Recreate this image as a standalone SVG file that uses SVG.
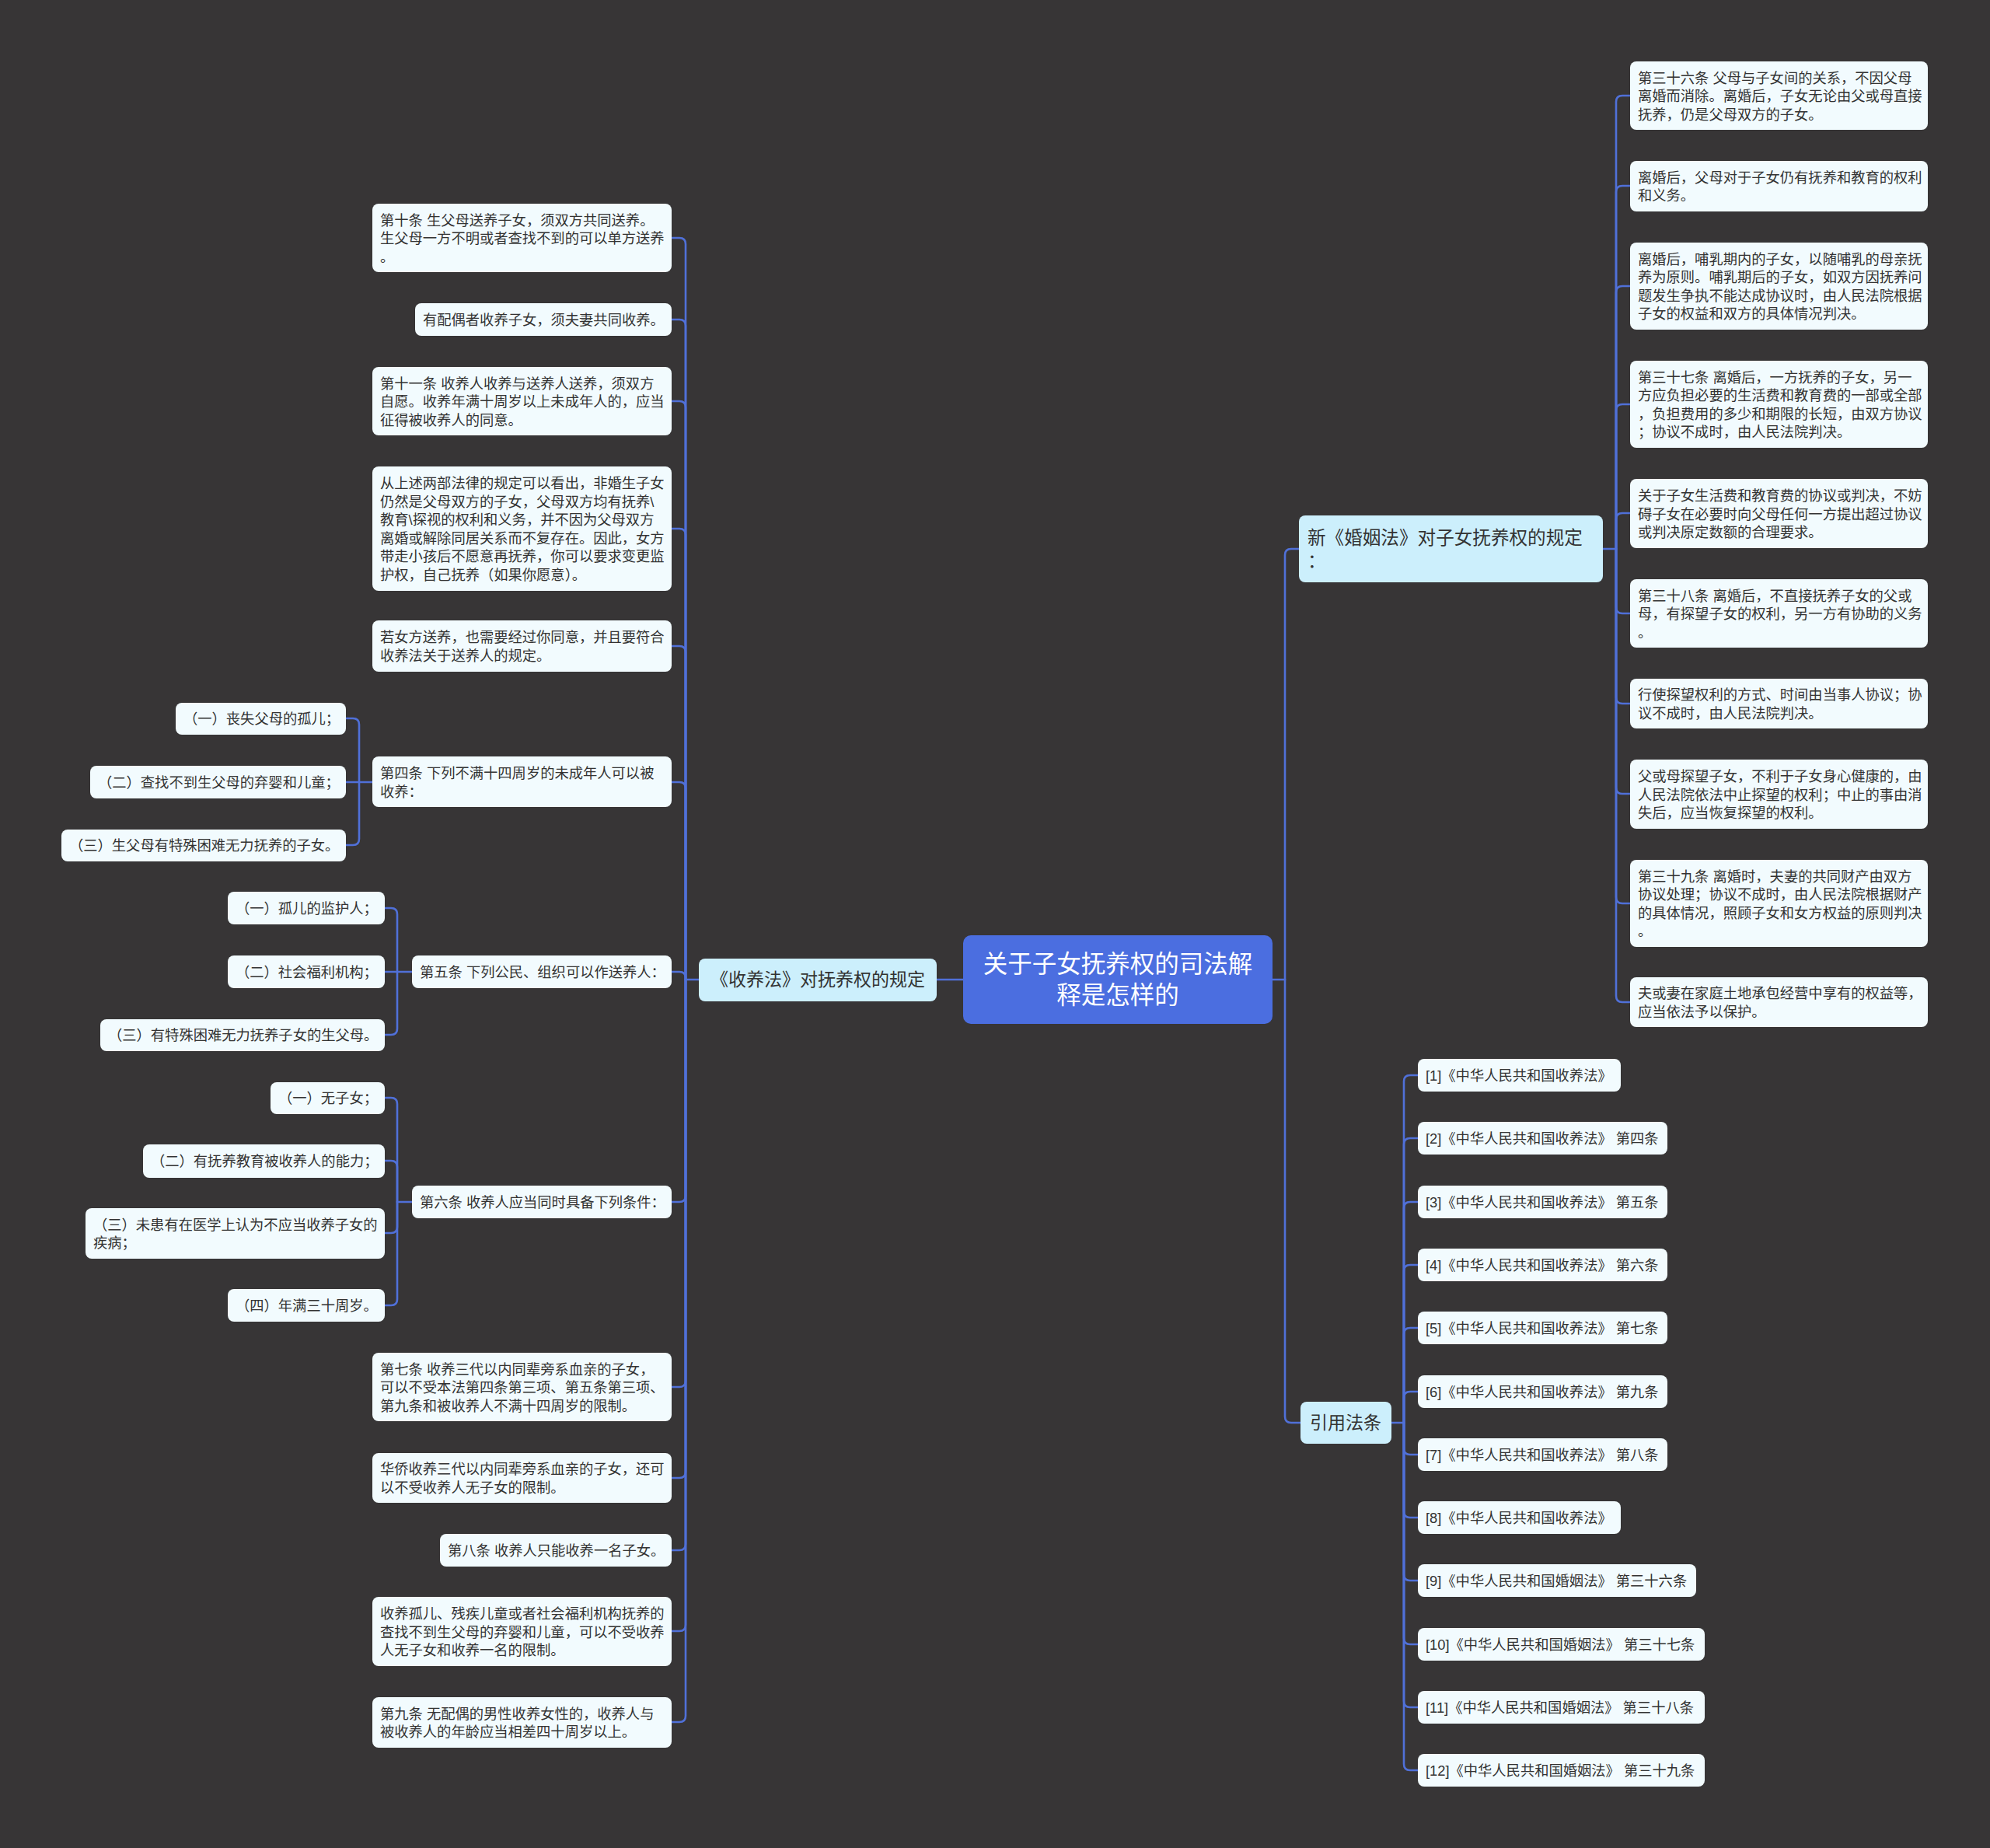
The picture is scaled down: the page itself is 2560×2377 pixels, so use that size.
<svg xmlns="http://www.w3.org/2000/svg" width="2560" height="2377" viewBox="0 0 2560 2377">
<style>
text{font-family:"Liberation Sans","Noto Sans CJK SC",sans-serif;dominant-baseline:central;fill:#333333}
.c{fill:#f2fbfe}
.b{fill:#cceffc}
.r{fill:#4b6ee0}
.t{font-size:18.3px}
.bt{font-size:23px}
.bt2{font-size:23.6px}
.rt{font-size:31.5px;fill:#ffffff;text-anchor:middle}
.ln{fill:none;stroke:#5070d8;stroke-width:2.6;stroke-linecap:round}
</style>
<rect width="2560" height="2377" fill="#373536"/>
<g id="connectors" class="ln">
<path d="M1239,1260 H1205"/>
<path d="M899,1260 H882"/>
<path d="M882,1260 V314 Q882,306 874,306 H864"/>
<path d="M882,1260 V419 Q882,411 874,411 H864"/>
<path d="M882,1260 V524 Q882,516 874,516 H864"/>
<path d="M882,1260 V688 Q882,680 874,680 H864"/>
<path d="M882,1260 V839 Q882,831 874,831 H864"/>
<path d="M882,1260 V1014 Q882,1006 874,1006 H864"/>
<path d="M882,1260 V1258 Q882,1250 874,1250 H864"/>
<path d="M882,1260 V1538 Q882,1546 874,1546 H864"/>
<path d="M882,1260 V1776 Q882,1784 874,1784 H864"/>
<path d="M882,1260 V1893 Q882,1901 874,1901 H864"/>
<path d="M882,1260 V1986 Q882,1994 874,1994 H864"/>
<path d="M882,1260 V2090 Q882,2098 874,2098 H864"/>
<path d="M882,1260 V2207 Q882,2215 874,2215 H864"/>
<path d="M479,1006 H462"/>
<path d="M462,1006 V932 Q462,924 454,924 H445"/>
<path d="M462,1006 H445"/>
<path d="M462,1006 V1079 Q462,1087 454,1087 H445"/>
<path d="M530,1250 H511"/>
<path d="M511,1250 V1176 Q511,1168 503,1168 H495"/>
<path d="M511,1250 H495"/>
<path d="M511,1250 V1323 Q511,1331 503,1331 H495"/>
<path d="M530,1546 H511"/>
<path d="M511,1546 V1420 Q511,1412 503,1412 H495"/>
<path d="M511,1546 V1501 Q511,1493 503,1493 H495"/>
<path d="M511,1546 V1578 Q511,1586 503,1586 H495"/>
<path d="M511,1546 V1671 Q511,1679 503,1679 H495"/>
<path d="M1637,1260 H1653"/>
<path d="M1653,1260 V714 Q1653,706 1661,706 H1671"/>
<path d="M1653,1260 V1822 Q1653,1830 1661,1830 H1673"/>
<path d="M2062,706 H2079"/>
<path d="M2079,706 V131 Q2079,123 2087,123 H2097"/>
<path d="M2079,706 V247 Q2079,239 2087,239 H2097"/>
<path d="M2079,706 V376 Q2079,368 2087,368 H2097"/>
<path d="M2079,706 V528 Q2079,520 2087,520 H2097"/>
<path d="M2079,706 V668 Q2079,660 2087,660 H2097"/>
<path d="M2079,706 V781 Q2079,789 2087,789 H2097"/>
<path d="M2079,706 V897 Q2079,905 2087,905 H2097"/>
<path d="M2079,706 V1013 Q2079,1021 2087,1021 H2097"/>
<path d="M2079,706 V1154 Q2079,1162 2087,1162 H2097"/>
<path d="M2079,706 V1281 Q2079,1289 2087,1289 H2097"/>
<path d="M1790,1830 H1806"/>
<path d="M1806,1830 V1391 Q1806,1383 1814,1383 H1824"/>
<path d="M1806,1830 V1472 Q1806,1464 1814,1464 H1824"/>
<path d="M1806,1830 V1554 Q1806,1546 1814,1546 H1824"/>
<path d="M1806,1830 V1635 Q1806,1627 1814,1627 H1824"/>
<path d="M1806,1830 V1716 Q1806,1708 1814,1708 H1824"/>
<path d="M1806,1830 V1798 Q1806,1790 1814,1790 H1824"/>
<path d="M1806,1830 V1863 Q1806,1871 1814,1871 H1824"/>
<path d="M1806,1830 V1944 Q1806,1952 1814,1952 H1824"/>
<path d="M1806,1830 V2025 Q1806,2033 1814,2033 H1824"/>
<path d="M1806,1830 V2107 Q1806,2115 1814,2115 H1824"/>
<path d="M1806,1830 V2188 Q1806,2196 1814,2196 H1824"/>
<path d="M1806,1830 V2269 Q1806,2277 1814,2277 H1824"/>
</g>
<g id="root"><rect class="r" x="1239" y="1203" width="398" height="114" rx="10"/>
<text class="rt"><tspan x="1438" y="1240">关于子女抚养权的司法解</tspan><tspan x="1438" y="1280">释是怎样的</tspan></text></g>
<g id="b1"><rect class="b" x="899" y="1233" width="306" height="55" rx="8"/>
<text class="bt" x="1052" y="1260" text-anchor="middle">《收养法》对抚养权的规定</text></g>
<g id="b2"><rect class="b" x="1671" y="663" width="391" height="86" rx="8"/>
<text class="bt2"><tspan x="1682" y="692">新《婚姻法》对子女抚养权的规定</tspan><tspan x="1682" y="722">：</tspan></text></g>
<g id="b3"><rect class="b" x="1673" y="1803" width="117" height="54" rx="8"/>
<text class="bt" x="1731" y="1830" text-anchor="middle">引用法条</text></g>

<g id="l1"><rect class="c" x="479" y="262" width="385" height="88" rx="8"/>
<text class="t"><tspan x="489" y="282.5">第十条 生父母送养子女，须双方共同送养。</tspan><tspan x="489" y="306">生父母一方不明或者查找不到的可以单方送养</tspan><tspan x="489" y="329.5">。</tspan></text></g>
<g id="l2"><rect class="c" x="534" y="390" width="330" height="42" rx="8"/>
<text class="t" x="544" y="411">有配偶者收养子女，须夫妻共同收养。</text></g>
<g id="l3"><rect class="c" x="479" y="472" width="385" height="88" rx="8"/>
<text class="t"><tspan x="489" y="492.5">第十一条 收养人收养与送养人送养，须双方</tspan><tspan x="489" y="516">自愿。收养年满十周岁以上未成年人的，应当</tspan><tspan x="489" y="539.5">征得被收养人的同意。</tspan></text></g>
<g id="l4"><rect class="c" x="479" y="600" width="385" height="160" rx="8"/>
<text class="t"><tspan x="489" y="621.25">从上述两部法律的规定可以看出，非婚生子女</tspan><tspan x="489" y="644.75">仍然是父母双方的子女，父母双方均有抚养\</tspan><tspan x="489" y="668.25">教育\探视的权利和义务，并不因为父母双方</tspan><tspan x="489" y="691.75">离婚或解除同居关系而不复存在。因此，女方</tspan><tspan x="489" y="715.25">带走小孩后不愿意再抚养，你可以要求变更监</tspan><tspan x="489" y="738.75">护权，自己抚养（如果你愿意）。</tspan></text></g>
<g id="l5"><rect class="c" x="479" y="798" width="385" height="66" rx="8"/>
<text class="t"><tspan x="489" y="819.25">若女方送养，也需要经过你同意，并且要符合</tspan><tspan x="489" y="842.75">收养法关于送养人的规定。</tspan></text></g>
<g id="l6"><rect class="c" x="479" y="973" width="385" height="65" rx="8"/>
<text class="t"><tspan x="489" y="994">第四条 下列不满十四周岁的未成年人可以被</tspan><tspan x="489" y="1017.5">收养：</tspan></text></g>
<g id="l6a"><rect class="c" x="226" y="904" width="219" height="41" rx="8"/>
<text class="t" x="236" y="924.5">（一）丧失父母的孤儿；</text></g>
<g id="l6b"><rect class="c" x="116" y="985" width="329" height="42" rx="8"/>
<text class="t" x="126" y="1006">（二）查找不到生父母的弃婴和儿童；</text></g>
<g id="l6c"><rect class="c" x="79" y="1067" width="366" height="41" rx="8"/>
<text class="t" x="89" y="1087.5">（三）生父母有特殊困难无力抚养的子女。</text></g>
<g id="l7"><rect class="c" x="530" y="1229" width="334" height="42" rx="8"/>
<text class="t" x="540" y="1250">第五条 下列公民、组织可以作送养人：</text></g>
<g id="l7a"><rect class="c" x="293" y="1147" width="202" height="42" rx="8"/>
<text class="t" x="303" y="1168">（一）孤儿的监护人；</text></g>
<g id="l7b"><rect class="c" x="293" y="1229" width="202" height="42" rx="8"/>
<text class="t" x="303" y="1250">（二）社会福利机构；</text></g>
<g id="l7c"><rect class="c" x="129" y="1311" width="366" height="41" rx="8"/>
<text class="t" x="139" y="1331.5">（三）有特殊困难无力抚养子女的生父母。</text></g>
<g id="l8"><rect class="c" x="530" y="1525" width="334" height="42" rx="8"/>
<text class="t" x="540" y="1546">第六条 收养人应当同时具备下列条件：</text></g>
<g id="l8a"><rect class="c" x="348" y="1392" width="147" height="41" rx="8"/>
<text class="t" x="358" y="1412.5">（一）无子女；</text></g>
<g id="l8b"><rect class="c" x="184" y="1472" width="311" height="43" rx="8"/>
<text class="t" x="194" y="1493.5">（二）有抚养教育被收养人的能力；</text></g>
<g id="l8c"><rect class="c" x="110" y="1554" width="385" height="65" rx="8"/>
<text class="t"><tspan x="120" y="1574.75">（三）未患有在医学上认为不应当收养子女的</tspan><tspan x="120" y="1598.25">疾病；</tspan></text></g>
<g id="l8d"><rect class="c" x="293" y="1658" width="202" height="42" rx="8"/>
<text class="t" x="303" y="1679">（四）年满三十周岁。</text></g>
<g id="l9"><rect class="c" x="479" y="1740" width="385" height="88" rx="8"/>
<text class="t"><tspan x="489" y="1760.5">第七条 收养三代以内同辈旁系血亲的子女，</tspan><tspan x="489" y="1784">可以不受本法第四条第三项、第五条第三项、</tspan><tspan x="489" y="1807.5">第九条和被收养人不满十四周岁的限制。</tspan></text></g>
<g id="l10"><rect class="c" x="479" y="1869" width="385" height="64" rx="8"/>
<text class="t"><tspan x="489" y="1889.25">华侨收养三代以内同辈旁系血亲的子女，还可</tspan><tspan x="489" y="1912.75">以不受收养人无子女的限制。</tspan></text></g>
<g id="l11"><rect class="c" x="566" y="1973" width="298" height="42" rx="8"/>
<text class="t" x="576" y="1994">第八条 收养人只能收养一名子女。</text></g>
<g id="l12"><rect class="c" x="479" y="2054" width="385" height="89" rx="8"/>
<text class="t"><tspan x="489" y="2075">收养孤儿、残疾儿童或者社会福利机构抚养的</tspan><tspan x="489" y="2098.5">查找不到生父母的弃婴和儿童，可以不受收养</tspan><tspan x="489" y="2122">人无子女和收养一名的限制。</tspan></text></g>
<g id="l13"><rect class="c" x="479" y="2183" width="385" height="65" rx="8"/>
<text class="t"><tspan x="489" y="2203.75">第九条 无配偶的男性收养女性的，收养人与</tspan><tspan x="489" y="2227.25">被收养人的年龄应当相差四十周岁以上。</tspan></text></g>

<g id="r1"><rect class="c" x="2097" y="79" width="383" height="88" rx="8"/>
<text class="t"><tspan x="2107" y="99.5">第三十六条 父母与子女间的关系，不因父母</tspan><tspan x="2107" y="123">离婚而消除。离婚后，子女无论由父或母直接</tspan><tspan x="2107" y="146.5">抚养，仍是父母双方的子女。</tspan></text></g>
<g id="r2"><rect class="c" x="2097" y="207" width="383" height="65" rx="8"/>
<text class="t"><tspan x="2107" y="227.75">离婚后，父母对于子女仍有抚养和教育的权利</tspan><tspan x="2107" y="251.25">和义务。</tspan></text></g>
<g id="r3"><rect class="c" x="2097" y="312" width="383" height="112" rx="8"/>
<text class="t"><tspan x="2107" y="332.75">离婚后，哺乳期内的子女，以随哺乳的母亲抚</tspan><tspan x="2107" y="356.25">养为原则。哺乳期后的子女，如双方因抚养问</tspan><tspan x="2107" y="379.75">题发生争执不能达成协议时，由人民法院根据</tspan><tspan x="2107" y="403.25">子女的权益和双方的具体情况判决。</tspan></text></g>
<g id="r4"><rect class="c" x="2097" y="464" width="383" height="112" rx="8"/>
<text class="t"><tspan x="2107" y="484.75">第三十七条 离婚后，一方抚养的子女，另一</tspan><tspan x="2107" y="508.25">方应负担必要的生活费和教育费的一部或全部</tspan><tspan x="2107" y="531.75">，负担费用的多少和期限的长短，由双方协议</tspan><tspan x="2107" y="555.25">；协议不成时，由人民法院判决。</tspan></text></g>
<g id="r5"><rect class="c" x="2097" y="616" width="383" height="89" rx="8"/>
<text class="t"><tspan x="2107" y="637">关于子女生活费和教育费的协议或判决，不妨</tspan><tspan x="2107" y="660.5">碍子女在必要时向父母任何一方提出超过协议</tspan><tspan x="2107" y="684">或判决原定数额的合理要求。</tspan></text></g>
<g id="r6"><rect class="c" x="2097" y="745" width="383" height="88" rx="8"/>
<text class="t"><tspan x="2107" y="765.5">第三十八条 离婚后，不直接抚养子女的父或</tspan><tspan x="2107" y="789">母，有探望子女的权利，另一方有协助的义务</tspan><tspan x="2107" y="812.5">。</tspan></text></g>
<g id="r7"><rect class="c" x="2097" y="873" width="383" height="64" rx="8"/>
<text class="t"><tspan x="2107" y="893.25">行使探望权利的方式、时间由当事人协议；协</tspan><tspan x="2107" y="916.75">议不成时，由人民法院判决。</tspan></text></g>
<g id="r8"><rect class="c" x="2097" y="977" width="383" height="89" rx="8"/>
<text class="t"><tspan x="2107" y="998">父或母探望子女，不利于子女身心健康的，由</tspan><tspan x="2107" y="1021.5">人民法院依法中止探望的权利；中止的事由消</tspan><tspan x="2107" y="1045">失后，应当恢复探望的权利。</tspan></text></g>
<g id="r9"><rect class="c" x="2097" y="1106" width="383" height="112" rx="8"/>
<text class="t"><tspan x="2107" y="1126.75">第三十九条 离婚时，夫妻的共同财产由双方</tspan><tspan x="2107" y="1150.25">协议处理；协议不成时，由人民法院根据财产</tspan><tspan x="2107" y="1173.75">的具体情况，照顾子女和女方权益的原则判决</tspan><tspan x="2107" y="1197.25">。</tspan></text></g>
<g id="r10"><rect class="c" x="2097" y="1257" width="383" height="64" rx="8"/>
<text class="t"><tspan x="2107" y="1277.25">夫或妻在家庭土地承包经营中享有的权益等，</tspan><tspan x="2107" y="1300.75">应当依法予以保护。</tspan></text></g>

<g id="c1"><rect class="c" x="1824" y="1362" width="261" height="42" rx="8"/><text class="t" x="1834" y="1383">[1]《中华人民共和国收养法》</text></g>
<g id="c2"><rect class="c" x="1824" y="1443" width="321" height="42" rx="8"/><text class="t" x="1834" y="1464">[2]《中华人民共和国收养法》 第四条</text></g>
<g id="c3"><rect class="c" x="1824" y="1525" width="321" height="42" rx="8"/><text class="t" x="1834" y="1546">[3]《中华人民共和国收养法》 第五条</text></g>
<g id="c4"><rect class="c" x="1824" y="1606" width="321" height="42" rx="8"/><text class="t" x="1834" y="1627">[4]《中华人民共和国收养法》 第六条</text></g>
<g id="c5"><rect class="c" x="1824" y="1687" width="321" height="42" rx="8"/><text class="t" x="1834" y="1708">[5]《中华人民共和国收养法》 第七条</text></g>
<g id="c6"><rect class="c" x="1824" y="1769" width="321" height="42" rx="8"/><text class="t" x="1834" y="1790">[6]《中华人民共和国收养法》 第九条</text></g>
<g id="c7"><rect class="c" x="1824" y="1850" width="321" height="42" rx="8"/><text class="t" x="1834" y="1871">[7]《中华人民共和国收养法》 第八条</text></g>
<g id="c8"><rect class="c" x="1824" y="1931" width="261" height="42" rx="8"/><text class="t" x="1834" y="1952">[8]《中华人民共和国收养法》</text></g>
<g id="c9"><rect class="c" x="1824" y="2012" width="358" height="42" rx="8"/><text class="t" x="1834" y="2033">[9]《中华人民共和国婚姻法》 第三十六条</text></g>
<g id="c10"><rect class="c" x="1824" y="2094" width="369" height="42" rx="8"/><text class="t" x="1834" y="2115">[10]《中华人民共和国婚姻法》 第三十七条</text></g>
<g id="c11"><rect class="c" x="1824" y="2175" width="369" height="42" rx="8"/><text class="t" x="1834" y="2196">[11]《中华人民共和国婚姻法》 第三十八条</text></g>
<g id="c12"><rect class="c" x="1824" y="2256" width="369" height="42" rx="8"/><text class="t" x="1834" y="2277">[12]《中华人民共和国婚姻法》 第三十九条</text></g>
</svg>
